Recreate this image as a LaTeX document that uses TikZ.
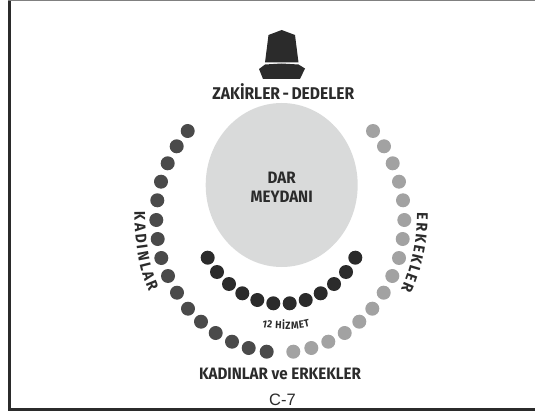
\documentclass[tikz,border=0pt]{standalone}
\usepackage{fontspec}
\setsansfont{Fira Sans}[FakeStretch=0.92]
\newfontfamily\labelfont{Liberation Sans}
\usetikzlibrary{shapes.geometric, decorations.text}
\definecolor{darcolor}{HTML}{D9DADA}
\definecolor{inkcolor}{HTML}{2B2B2B}
\definecolor{womencolor}{HTML}{4A4A4A}
\definecolor{mencolor}{HTML}{A2A2A2}

\begin{document}
\begin{tikzpicture}[x=1pt, y=-1pt,
    seat/.style={circle, inner sep=0pt, minimum size=14pt},
    title/.style={text=inkcolor, font=\sffamily\bfseries\fontsize{#1}{#1}\selectfont, inner sep=0pt, align=center}]
  \useasboundingbox (0,0) rectangle (535,414);

  % frame
  \fill[inkcolor] (8,0) rectangle (10.5,411);
  \fill[inkcolor] (8,408) rectangle (535,411);
  \fill[gray] (8,0) rectangle (535,1);

  % hat
  \fill[inkcolor] (268.5,35) -- (281.7,30) -- (295,35) -- (298.5,62.5) -- (265,62.5) -- cycle;
  \fill[inkcolor] (259,69) -- (265,64.5) -- (281.7,63.5) -- (298.5,64.5) -- (305,68.5) -- (300,79) -- (263,79) -- cycle;

  \node[title=17] (zakirler) at (283.3,91.5) {ZAKİRLER\hspace{2.5pt}-\hspace{2.5pt}DEDELER};

  \node[ellipse, fill=darcolor, minimum width=152pt, minimum height=164pt, inner sep=0pt] (meydan) at (281.7,185) {};
  \node[title=16.5] (dar) at (281.7,187) {DAR\\[2.5pt]MEYDANI};

  % women
  \foreach \x/\y [count=\i] in {187.7/131, 176.7/146.3, 167.7/163.3, 161/181.7, 157.3/200.3,
      156.3/220, 157.7/239, 161.3/258, 168/276, 177/292.7, 188/308.7, 201/321.7,
      215.7/333, 232/341.7, 248.7/348, 266.7/351.7}
    \node[seat, fill=womencolor] (woman\i) at (\x,\y) {};

  % men
  \foreach \x/\y [count=\i] in {373/131, 384/146.3, 392.7/163.3, 399/181.7, 403/200.3,
      404.3/220, 402.7/239, 399/258, 392.3/276, 383.7/292.7, 372.3/308.7, 359.3/321.7,
      344.7/333, 328.3/341.7, 311.3/348, 293.3/351.7}
    \node[seat, fill=mencolor] (man\i) at (\x,\y) {};

  % service
  \foreach \x/\y [count=\i] in {207.7/257.7, 217/272, 229/284, 242.3/293.3, 257.3/300, 273.3/303.3,
      289.7/303.3, 305.7/300, 320.7/293.3, 334/284, 346/272, 355.3/257.7}
    \node[seat, fill=inkcolor] (service\i) at (\x,\y) {};

  % curved labels
  \path[decorate, decoration={text along path, text align=fit to path,
      text={|\sffamily\bfseries\fontsize{15.5}{15.5}\selectfont\color{inkcolor}|KADINLAR}}]
    (134.5,212) .. controls (134.5,240) and (138,268) .. (149,292);
  \path[decorate, decoration={text along path, text align=fit to path,
      text={|\sffamily\bfseries\fontsize{15.5}{15.5}\selectfont\color{inkcolor}|ERKEKLER}}]
    (417,213) .. controls (417,240) and (412,265) .. (401,290);
  \path[decorate, decoration={text along path, text align=fit to path,
      text={|\sffamily\bfseries\fontsize{10.5}{10.5}\selectfont\color{inkcolor}|12 HİZMET}}]
    (262,327) .. controls (275,330) and (297,330) .. (310,326.5);

  \node[title=16.5] (both) at (280,373.5) {KADINLAR ve ERKEKLER};
  \node[inner sep=0pt, text=inkcolor, font=\labelfont\fontsize{16.5}{16.5}\selectfont] (figure) at (282.5,400) {C-7};
\end{tikzpicture}
\end{document}
